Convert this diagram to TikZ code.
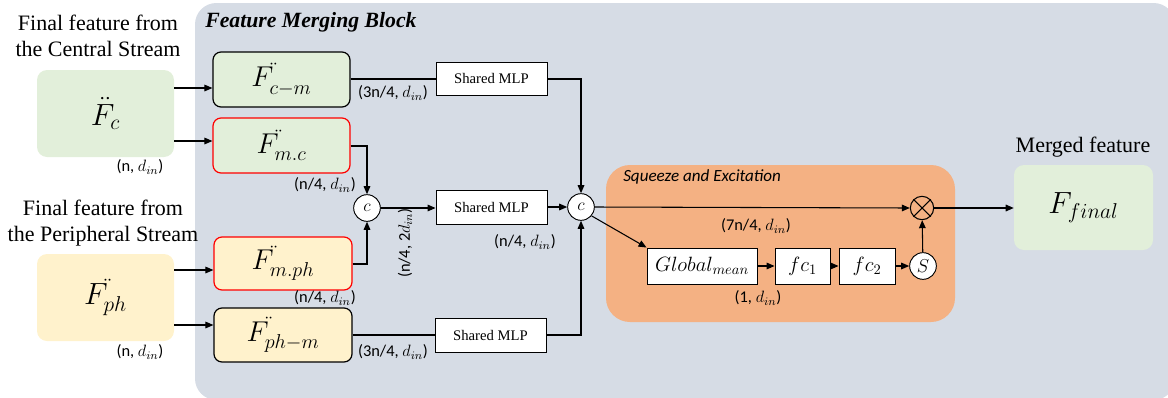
\RequirePackage{fix-cm}
\documentclass[tikz,border=0pt]{standalone}
\usepackage{fontspec}
\setmainfont{Liberation Serif}
\setsansfont{Carlito}
\usetikzlibrary{arrows.meta,calc}
\definecolor{bggrey}{HTML}{D6DCE5}
\definecolor{fgreen}{HTML}{E2EFDA}
\definecolor{fyellow}{HTML}{FFF2CC}
\definecolor{seorange}{HTML}{F4B183}
\definecolor{fred}{HTML}{FF0000}
\tikzset{
  sz/.style 2 args={minimum width={#1*0.75pt}, minimum height={#2*0.75pt}, inner sep=0pt},
  feat/.style={rounded corners=7.5pt, draw=none, font=\fontsize{23}{26}\selectfont},
  inner/.style={rounded corners=6pt, line width=0.9pt, font=\fontsize{21.5}{24}\selectfont},
  mlp/.style={draw, fill=white, line width=0.7pt, font=\fontsize{11}{13}\selectfont},
  sebox/.style={draw, fill=white, line width=0.7pt, font=\fontsize{15.5}{17}\selectfont},
  circ/.style={circle, draw, fill=white, line width=0.7pt, inner sep=0pt},
  dim/.style={font=\sffamily\fontsize{12.3}{14}\selectfont, inner sep=0pt},
  head/.style={font=\fontsize{16.5}{19.5}\selectfont, align=center, inner sep=0pt},
  arr/.style={line width=0.8pt, -{Triangle[length=6pt,width=5pt]}},
  ln/.style={line width=0.8pt},
}
\begin{document}
\begin{tikzpicture}[x=0.75pt,y=-0.75pt]
\useasboundingbox (0,0) rectangle (1168,397);
% background block
\fill[bggrey, rounded corners=16pt] (195,3) rectangle (1175,400);
\node[anchor=west, font=\bfseries\itshape\fontsize{16.3}{19}\selectfont, inner sep=0pt] (title) at (205,22) {Feature Merging Block};
% SE block
\node[sz={349}{157}, fill=seorange, rounded corners=18pt] (se) at (780.5,243.5) {};
\node[anchor=west, font=\sffamily\itshape\fontsize{12.8}{15}\selectfont, inner sep=0pt] (setitle) at (623,177) {Squeeze and Excitation};

% headings
\node[head] (hc) at (98,36) {Final feature from\\the Central Stream};
\node[head] (hp) at (103,223) {Final feature from\\the Peripheral Stream};
\node[head] (hm) at (1083,147) {Merged feature};

% feature boxes
\node[feat, sz={137}{87}, fill=fgreen] (fc) at (105.5,113.5) {$\ddot{F}_{c}$};
\node[feat, sz={137}{87}, fill=fyellow] (fph) at (105.5,297.5) {$F^{\ddot{}}_{ph}$};
\node[feat, sz={139}{85}, fill=fgreen] (ff) at (1083.5,207.5) {$F_{final}$};

\node[inner, sz={137}{55}, draw=black, fill=fgreen] (fcm) at (281.5,79.5) {$F^{\ddot{}}_{c-m}$};
\node[inner, sz={137}{55}, draw=fred, fill=fgreen] (fmc) at (281.5,145.5) {$F^{\ddot{}}_{m.c}$};
\node[inner, sz={138}{53}, draw=fred, fill=fyellow] (fmph) at (283,263.5) {$F^{\ddot{}}_{m.ph}$};
\node[inner, sz={138}{54}, draw=black, fill=fyellow] (fphm) at (283,335) {$F^{\ddot{}}_{ph-m}$};

% MLPs
\node[mlp, sz={111}{33}] (mlp1) at (491.5,78.5) {Shared MLP};
\node[mlp, sz={111}{34}] (mlp2) at (491.5,207) {Shared MLP};
\node[mlp, sz={111}{34}] (mlp3) at (490.5,335) {Shared MLP};

% concat circles
\node[circ, minimum size=20pt, font=\fontsize{13}{15}\selectfont] (c1) at (367,208) {$c$};
\node[circ, minimum size=20pt, font=\fontsize{13}{15}\selectfont] (c2) at (581,207) {$c$};

% SE internals
\node[sebox, sz={110}{36}] (glob) at (702,266) {$Global_{mean}$};
\node[sebox, sz={55}{36}] (fc1) at (802.5,266) {$fc_{1}$};
\node[sebox, sz={56}{36}] (fc2) at (867,266) {$fc_{2}$};
\node[circ, minimum size=20pt, font=\fontsize{14}{16}\selectfont] (s) at (923,266) {$S$};
\node[circle, draw, line width=0.8pt, minimum size=17.5pt, inner sep=0pt] (ot) at (922,208) {};
\draw[line width=0.8pt] (ot.north east) -- (ot.south west) (ot.north west) -- (ot.south east);

% helper levels
\coordinate (y88) at (0,88);
\coordinate (y141) at (0,141);
\coordinate (y270) at (0,270);
\coordinate (y325) at (0,325);
\coordinate (y146) at (0,146);
\coordinate (y264) at (0,264);
\coordinate (y79) at (0,79);
\coordinate (y335) at (0,335);
\coordinate (y208) at (0,208);

% connectors
\draw[arr] (fc.east |- y88) -- (fcm.west |- y88);
\draw[arr] (fc.east |- y141) -- (fmc.west |- y141);
\draw[arr] (fph.east |- y270) -- (fmph.west |- y270);
\draw[arr] (fph.east |- y325) -- (fphm.west |- y325);

\draw[ln] (fcm.east |- y79) -- (mlp1.west |- y79);
\draw[arr] (mlp1.east |- y79) -| (c2.north);
\draw[arr] (fmc.east |- y146) -| (c1.north);
\draw[arr] (fmph.east |- y264) -| (c1.south);
\draw[arr] (c1.east) -- (mlp2.west |- c1.east);
\draw[arr] (mlp2.east) -- (c2.west);
\draw[ln] (fphm.east |- y335) -- (mlp3.west |- y335);
\draw[arr] (mlp3.east |- y335) -| (c2.south);

\draw[arr] (c2.east) -- (ot.west);
\draw[arr] (c2.-40) -- (glob.north west);
\draw[arr] (glob) -- (fc1);
\draw[arr] (fc1) -- (fc2);
\draw[arr] (fc2) -- (s);
\draw[arr] (s) -- (ot);
\draw[arr] (ot.east |- y208) -- (ff.west |- y208);

% dimension labels
\node[dim] (l1) at (140,167) {(n, $d_{in}$)};
\node[dim] (l2) at (140,352) {(n, $d_{in}$)};
\node[dim] (l3) at (393,93) {(3n/4, $d_{in}$)};
\node[dim] (l4) at (393,352) {(3n/4, $d_{in}$)};
\node[dim] (l5) at (325,185) {(n/4, $d_{in}$)};
\node[dim] (l6) at (325,298) {(n/4, $d_{in}$)};
\node[dim] (l7) at (525,242) {(n/4, $d_{in}$)};
\node[dim, rotate=90] (l8) at (405,243) {(n/4, 2$d_{in}$)};
\node[dim] (l9) at (756,226) {(7n/4, $d_{in}$)};
\node[dim] (l10) at (758,298) {(1, $d_{in}$)};
\end{tikzpicture}
\end{document}
